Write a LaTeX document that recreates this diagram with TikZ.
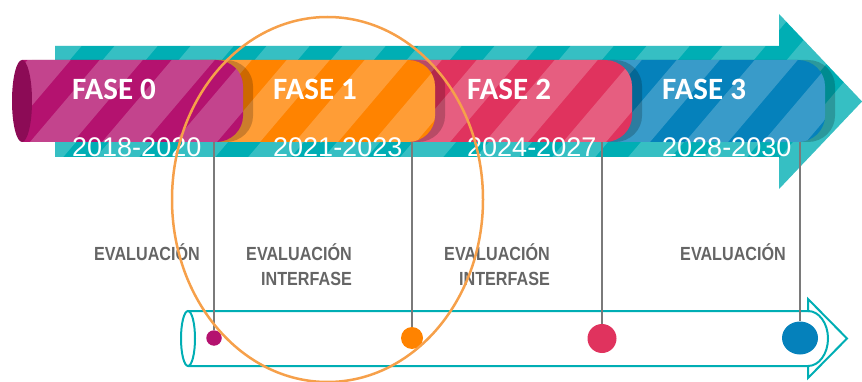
\documentclass[tikz,border=0pt]{standalone}
\usepackage{fontspec}
\setmainfont{Liberation Sans}
\newfontfamily\fasefont{Carlito}
\newfontfamily\evalfont[FakeStretch=0.85]{Liberation Sans}
\usetikzlibrary{shapes.geometric}
\definecolor{teal0}{HTML}{00AEB4}
\definecolor{fase0}{HTML}{B4126F}
\definecolor{fase0d}{HTML}{8C0B56}
\definecolor{fase1}{HTML}{FF8300}
\definecolor{fase2}{HTML}{E0335E}
\definecolor{fase3}{HTML}{0581BB}
\definecolor{ringcol}{HTML}{F6A04A}
\definecolor{evalgray}{HTML}{656565}
\definecolor{linegray}{HTML}{7A7A7A}
% #1 = x of first band's left edge at y=142, #2 = period
\newcommand\mystripes[2]{%
  \foreach \k in {-2,...,12}{%
    \pgfmathsetmacro\L{#1+#2*\k}%
    \fill[stripefill] ({\L-49.3},200) -- ({\L-6.3},200) -- ({\L+163.7},0) -- ({\L+120.7},0) -- cycle;}}
\begin{document}
\begin{tikzpicture}[x=1pt,y=-1pt,
  capsulepath/.style 2 args={insert path={(#1,60) -- ({#2-27},60) .. controls ({#2-12},60) and (#2,72) .. (#2,86) -- (#2,116) .. controls (#2,130) and ({#2-12},142) .. ({#2-27},142) -- (#1,142) -- cycle}},
  arrowpath/.style={insert path={(55,46) -- (779,46) -- (779,14) -- (862,101.5) -- (779,189) -- (779,157) -- (55,157) -- cycle}},
  stripefill/.style={white, opacity=0.21},
  shadowfill/.style={black, opacity=0.2},
  fasetext/.style={anchor=base west, inner sep=0, text=white, font=\fasefont\bfseries\fontsize{31}{31}\selectfont},
  yeartext/.style={anchor=base west, inner sep=0, text=white, font=\fontsize{27}{27}\selectfont},
  evaltext/.style={anchor=base east, inner sep=0, align=right, text=evalgray, font=\evalfont\bfseries\fontsize{19}{25}\selectfont},
  vconn/.style={linegray, line width=1.3pt},
  tubeline/.style={teal0, line width=2pt},
  dotnode/.style={circle, inner sep=0, draw=none},
]
\useasboundingbox (0,0) rectangle (862,382);
% big teal arrow
\fill[teal0, arrowpath];
\begin{scope}\clip[arrowpath]; \mystripes{109}{76} \end{scope}
% Fase 3
\fill[shadowfill, capsulepath={610}{835}];
\fill[fase3, capsulepath={600}{825}];
\begin{scope}\clip[capsulepath={600}{825}]; \mystripes{607}{78} \end{scope}
% Fase 2
\fill[shadowfill, capsulepath={410}{642}];
\fill[fase2, capsulepath={400}{632}];
\begin{scope}\clip[capsulepath={400}{632}]; \mystripes{407}{78} \end{scope}
% Fase 1
\fill[shadowfill, capsulepath={210}{445}];
\fill[fase1, capsulepath={200}{435}];
\begin{scope}\clip[capsulepath={200}{435}]; \mystripes{217}{78} \end{scope}
% Fase 0
\fill[shadowfill, capsulepath={32}{253}];
\fill[fase0, capsulepath={22}{243}];
\begin{scope}\clip[capsulepath={22}{243}]; \mystripes{30}{72} \end{scope}
\fill[fase0d] (22,101) ellipse [x radius=10, y radius=41];
% texts
\node[fasetext] (f0) at (72,100) {FASE 0};
\node[fasetext] (f1) at (273,100) {FASE 1};
\node[fasetext] (f2) at (467,100) {FASE 2};
\node[fasetext] (f3) at (662,100) {FASE 3};
\node[yeartext] (y0) at (72,157) {2018-2020};
\node[yeartext] (y1) at (273,157) {2021-2023};
\node[yeartext] (y2) at (467,157) {2024-2027};
\node[yeartext] (y3) at (662,157) {2028-2030};
% bottom tube
\draw[tubeline, line join=miter] (188,311) -- (808,311) -- (808,299) -- (847,338.5) -- (808,378) -- (808,366) -- (188,366);
\draw[tubeline] (188,338.5) ellipse [x radius=7, y radius=27.5];
\draw[tubeline] (808,311) arc[start angle=-90, end angle=90, x radius=20, y radius=27.5];
% connectors and dots
\coordinate (c0) at (214,142);
\coordinate (c1) at (412,142);
\coordinate (c2) at (602,142);
\coordinate (c3) at (800,142);
\node[dotnode, fill=fase0, minimum size=15.5pt] (d0) at (214,338) {};
\node[dotnode, fill=fase1, minimum size=22pt] (d1) at (412,338) {};
\node[dotnode, fill=fase2, minimum size=29pt] (d2) at (602,338.5) {};
\node[ellipse, inner sep=0, fill=fase3, minimum width=36pt, minimum height=33pt] (d3) at (800,338) {};
\draw[vconn] (c0) -- (d0.north);
\draw[vconn] (c1) -- (d1.north);
\draw[vconn] (c2) -- (d2.north);
\draw[vconn] (c3) -- (d3.north);
% labels
\node[evaltext] (e0) at (200,260) {EVALUACIÓN};
\node[evaltext] (e1) at (352,285) {EVALUACIÓN\\INTERFASE};
\node[evaltext] (e2) at (550,285) {EVALUACIÓN\\INTERFASE};
\node[evaltext] (e3) at (786,260) {EVALUACIÓN};
% highlight ring
\node[ellipse, draw=ringcol, line width=2.5pt, inner sep=0, minimum width=311pt, minimum height=365pt] (ring) at (327.5,199.5) {};
\end{tikzpicture}
\end{document}
